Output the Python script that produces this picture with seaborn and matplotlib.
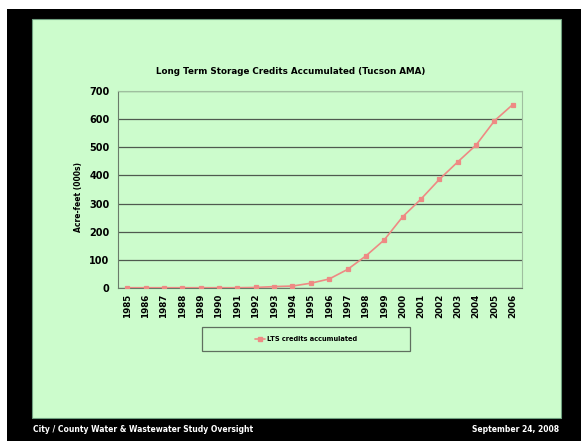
import matplotlib
matplotlib.use("Agg")
import matplotlib.pyplot as plt
from matplotlib.patches import Rectangle
from matplotlib.lines import Line2D
import seaborn as sns
import pandas as pd
import numpy as np

years = [str(y) for y in range(1985, 2007)]
credits = [1, 1, 1, 1, 1, 1, 1, 2, 5, 7, 17, 32, 66, 114, 171, 253,
           316, 386, 448, 508, 594, 652]
yticks = [0, 100, 200, 300, 400, 500, 600, 700]

title = "Long Term Storage Credits Accumulated (Tucson AMA)"
ylabel = "Acre-feet (000s)"
series_name = "LTS credits accumulated"
footer_left = "City / County Water & Wastewater Study Oversight"
footer_right = "September 24, 2008"

panel_green = "#ccfccc"
line_color = "#ee8a84"
grid_color = "#4f5a4f"

sns.set_theme(style="white")
plt.rcParams["font.family"] = ["DejaVu Sans"]
plt.rcParams["text.color"] = "black"
plt.rcParams["xtick.color"] = "black"
plt.rcParams["ytick.color"] = "black"
plt.rcParams["axes.labelcolor"] = "black"

W, H = 581, 441
fig = plt.figure(figsize=(W / 100, H / 100), dpi=100, facecolor="white")


def fig_rect(x0, y0, x1, y1, **kw):
    # pixel box (top-left origin) -> figure-fraction rectangle
    return Rectangle((x0 / W, 1 - y1 / H), (x1 - x0) / W, (y1 - y0) / H,
                     transform=fig.transFigure, **kw)


fig.patches.append(fig_rect(7, 9, W, H, facecolor="black", edgecolor="none", zorder=-3))
fig.patches.append(fig_rect(32, 19, 561, 418, facecolor=panel_green,
                            edgecolor="#6f9f7f", linewidth=0.8, zorder=-2))

ax = fig.add_axes([118 / W, 1 - 288 / H, 404 / W, 197 / H])
ax.set_facecolor(panel_green)

df = pd.DataFrame({"year": years, "credits": credits})
sns.pointplot(data=df, x="year", y="credits", color=line_color, markers="s",
              markersize=3, linewidth=1.2, ax=ax, zorder=3)

ax.set_xlim(-0.5, len(years) - 0.5)
ax.set_ylim(0, 700)
ax.set_yticks(yticks)
ax.yaxis.grid(True, color=grid_color, linewidth=0.9)
ax.set_axisbelow(True)
for s in ["top", "right"]:
    ax.spines[s].set_color("#9fbf9f")
    ax.spines[s].set_linewidth(0.8)
for s in ["left", "bottom"]:
    ax.spines[s].set_color("#6a7a6a")
    ax.spines[s].set_linewidth(0.8)

ax.set_xlabel("")
ax.set_ylabel(ylabel, fontsize=5.5, fontweight="bold")
ax.yaxis.set_label_coords(-35 / 404, 0.46)
ax.set_xticks(range(len(years)))
ax.set_xticklabels(years, rotation=90, fontsize=6.3, fontweight="bold")
ax.set_xticks(np.arange(-0.5, len(years), 1.0), minor=True)
ax.tick_params(axis="x", which="major", length=0, pad=4)
ax.tick_params(axis="x", which="minor", length=3, color="#5a6a5a", width=0.8)
ax.tick_params(axis="y", length=3, color="#5a6a5a", labelcolor="black",
               width=0.8, labelsize=7, pad=3)
for lab in ax.get_yticklabels():
    lab.set_fontweight("bold")

fig.text(291 / W, 1 - 72 / H, title, ha="center", va="center",
         fontsize=6.3, fontweight="bold", color="black")

# legend frame and entry
fig.patches.append(fig_rect(202, 327, 410, 351, facecolor=panel_green,
                            edgecolor="#5f6f5f", linewidth=0.9, zorder=-1))
handle = Line2D([], [], color=line_color, marker="s", markersize=3, linewidth=1.2)
fig.legend([handle], [series_name], loc="center",
           bbox_to_anchor=(306 / W, 1 - 339 / H), frameon=False,
           handlelength=1.6, handletextpad=0.3,
           prop={"weight": "bold", "size": 4.8})

fig.text(33 / W, 1 - 429 / H, footer_left, ha="left", va="center",
         fontsize=5.5, fontweight="bold", color="white")
fig.text(559 / W, 1 - 429 / H, footer_right, ha="right", va="center",
         fontsize=5.5, fontweight="bold", color="white")

fig.savefig("out.png", dpi=100, facecolor=fig.get_facecolor())
